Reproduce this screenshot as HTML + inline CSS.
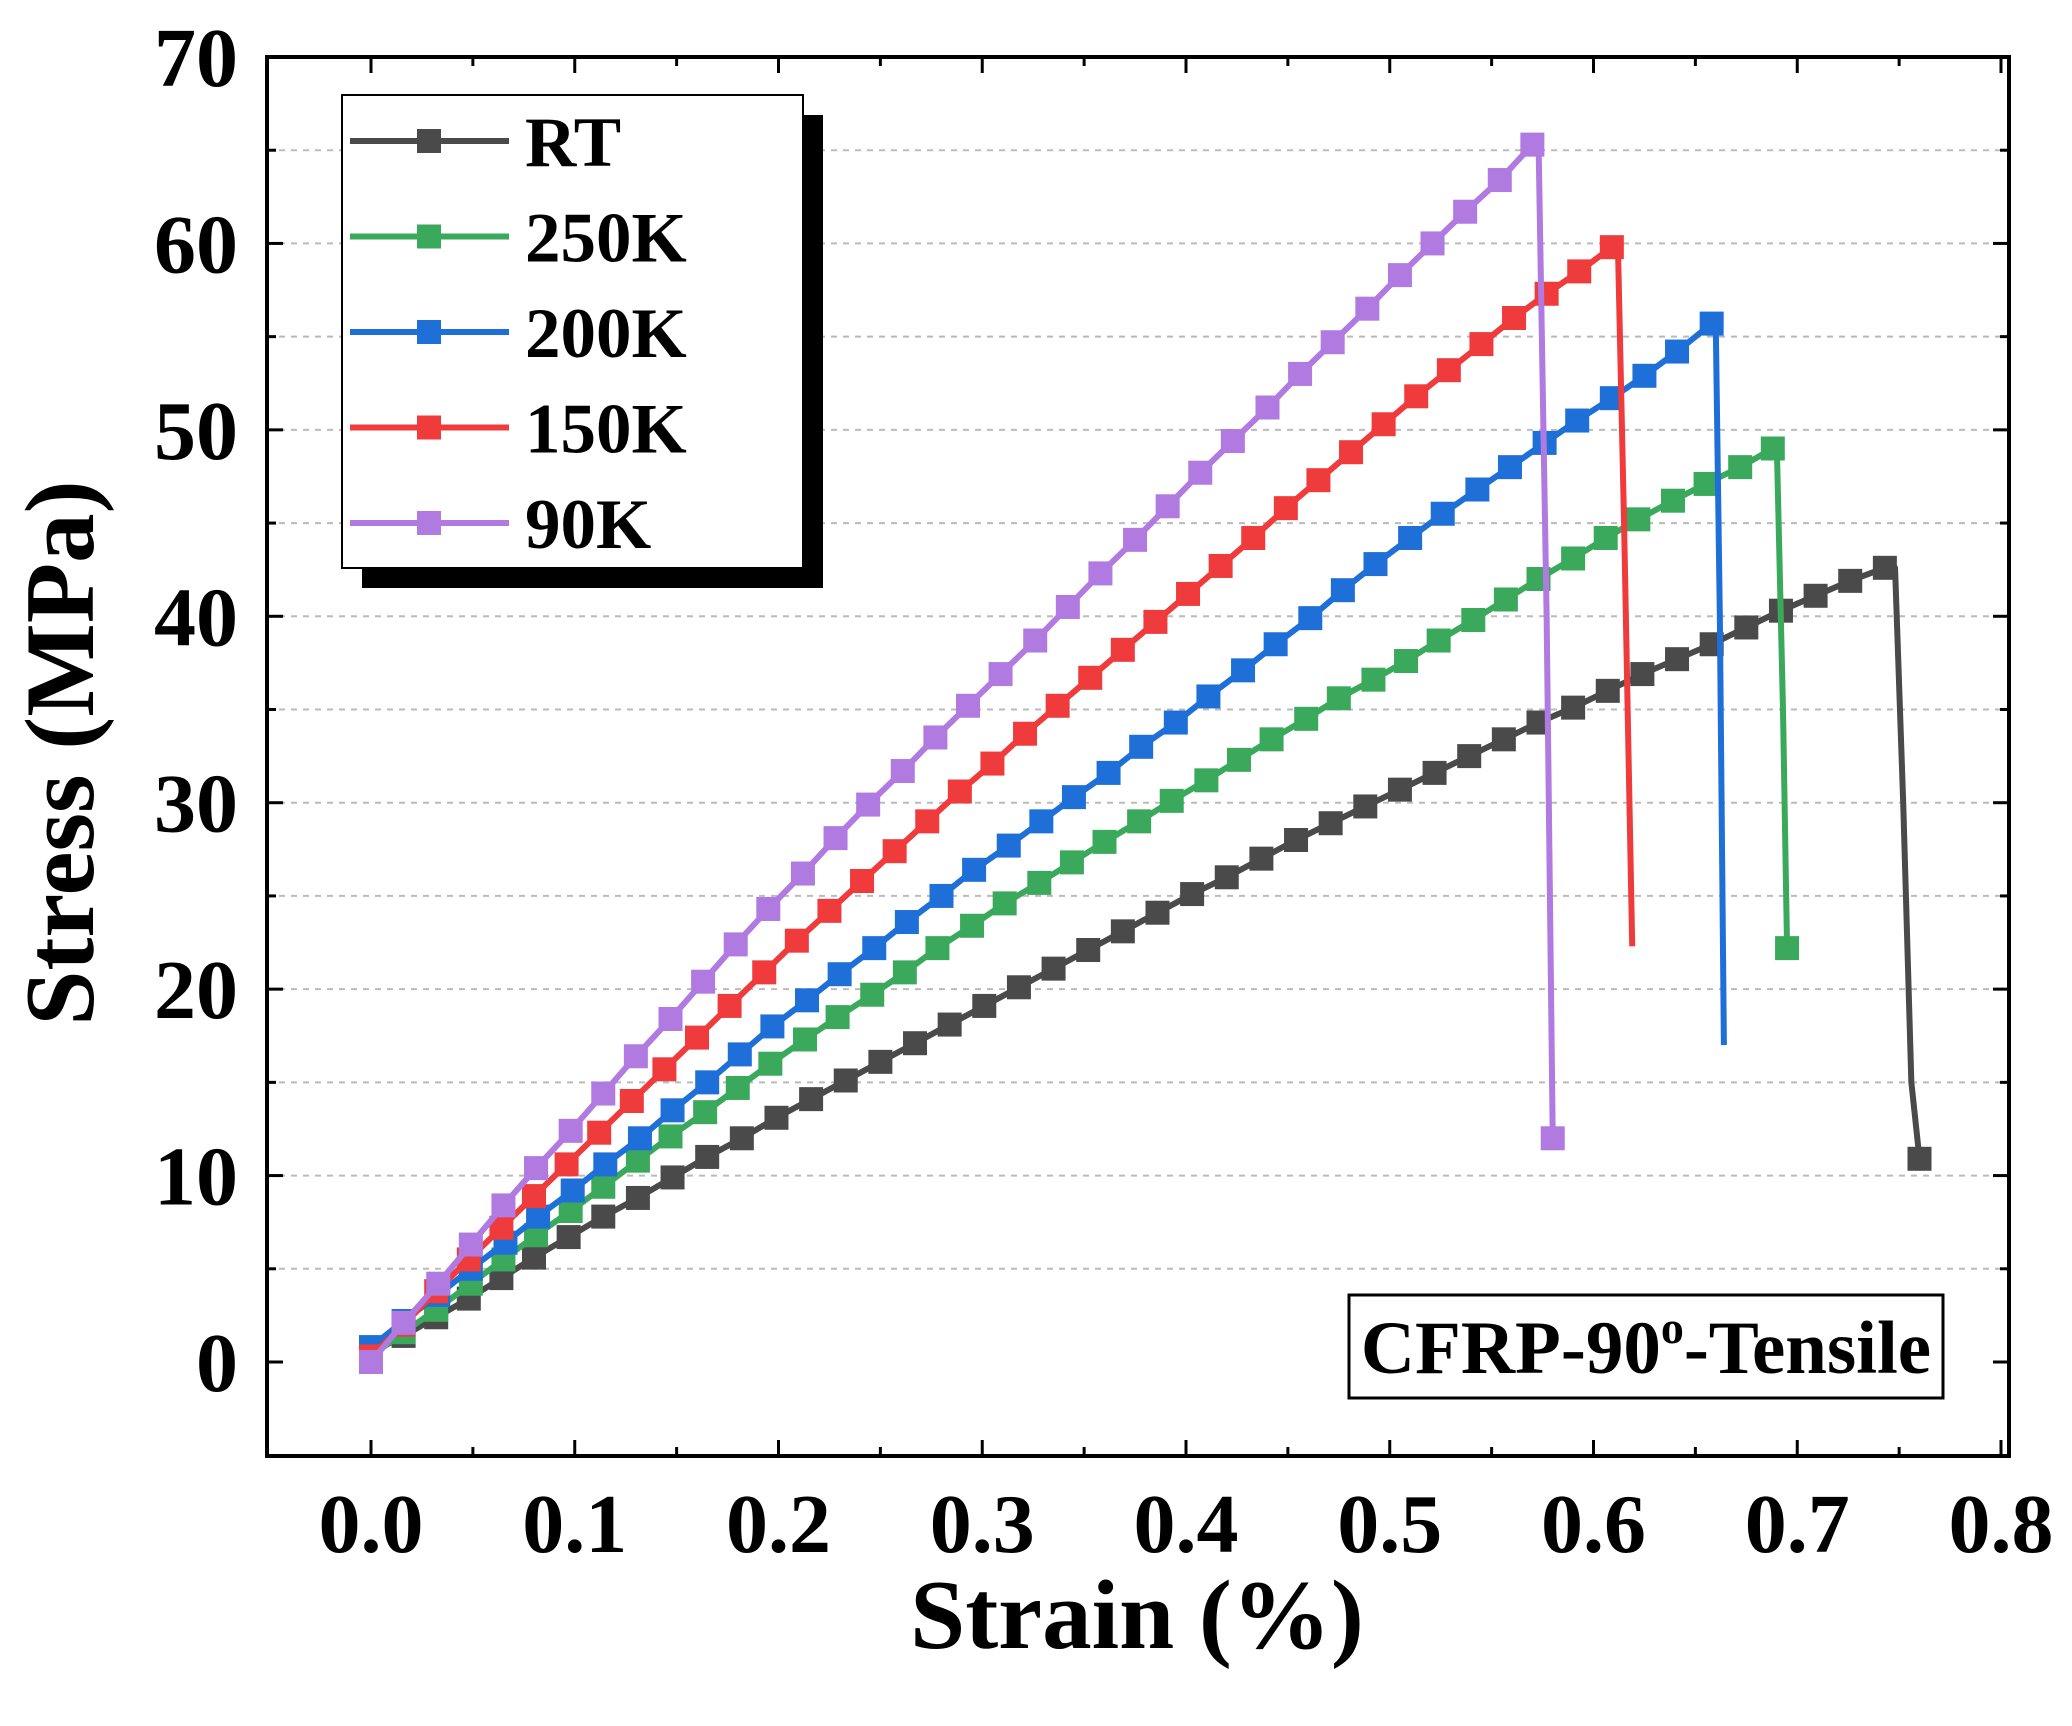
<!DOCTYPE html>
<html><head><meta charset="utf-8"><style>
html,body{margin:0;padding:0;background:#fff;}
svg{display:block;font-family:"Liberation Serif",serif;font-weight:bold;}
</style></head><body>
<svg id="chart" width="2072" height="1726" viewBox="0 0 2072 1726">
<g id="grid"></g>
<g id="series"></g>
<g id="axes"></g>
<g id="legend"></g>
<g>
<rect x="1349" y="1295" width="594" height="103" fill="#fff" stroke="#000" stroke-width="3"/>
<text x="1646" y="1373" font-size="75" text-anchor="middle">CFRP-90<tspan font-size="46" dy="-30">o</tspan><tspan dy="30">-Tensile</tspan></text>
</g>
<text x="1137" y="1648" font-size="99" text-anchor="middle">Strain (%)</text>
<text transform="translate(93,753) rotate(-90)" font-size="99" text-anchor="middle">Stress (MPa)</text>
</svg>
<script>
const seriesNames = ["RT","250K","200K","150K","90K"];
const seriesColors = ["#4a4a4a","#3aa95c","#1f6fd8","#ef3b3b","#b07ae0"];
const xTicks = [0,0.1,0.2,0.3,0.4,0.5,0.6,0.7,0.8];
const xTickLabels = ["0.0","0.1","0.2","0.3","0.4","0.5","0.6","0.7","0.8"];
const yTicks = [0,10,20,30,40,50,60,70];
const yTickLabels = ["0","10","20","30","40","50","60","70"];

const rtStrain = [0,0.016,0.032,0.048,0.064,0.080,0.097,0.114,0.131,0.148,0.165,0.182,0.199,0.216,0.233,0.250,0.267,0.284,0.301,0.318,0.335,0.352,0.369,0.386,0.403,0.420,0.437,0.454,0.471,0.488,0.505,0.522,0.539,0.556,0.573,0.590,0.607,0.624,0.641,0.658,0.675,0.692,0.709,0.726,0.743];
const rtStress = [0.5,1.4,2.4,3.4,4.5,5.6,6.7,7.8,8.8,9.9,11.0,12.0,13.1,14.1,15.1,16.1,17.1,18.1,19.1,20.1,21.1,22.1,23.1,24.1,25.1,26.0,27.0,28.0,28.9,29.8,30.7,31.6,32.5,33.4,34.3,35.1,36.0,36.9,37.7,38.5,39.4,40.3,41.1,41.9,42.6];
const rtDropStrain = [0.748,0.752,0.756,0.760];
const rtDropStress = [42.6,30,15,10.9];

const k250Strain = [0,.016,.032,.049,.065,.081,.098,.114,.131,.147,.164,.180,.196,.213,.229,.246,.262,.278,.295,.311,.328,.344,.360,.377,.393,.410,.426,.442,.459,.475,.492,.508,.524,.541,.557,.573,.590,.606,.622,.639,.655,.672,.688];
const k250Stress = [0.3,1.6,2.8,4.2,5.5,6.8,8.1,9.4,10.8,12.1,13.4,14.7,16.0,17.3,18.5,19.7,20.9,22.2,23.4,24.6,25.7,26.8,27.9,29.0,30.1,31.2,32.3,33.4,34.5,35.6,36.6,37.6,38.7,39.8,40.9,42.0,43.1,44.2,45.2,46.2,47.1,48.0,49.0];
const k250DropStrain = [0.690,0.693,0.695];
const k250DropStress = [49,35,22.2];

const k200Strain = [0,.016,.033,.049,.066,.082,.099,.115,.132,.148,.165,.181,.197,.214,.230,.247,.263,.280,.296,.313,.329,.345,.362,.378,.395,.411,.428,.444,.461,.477,.493,.510,.526,.543,.559,.576,.592,.609,.625,.641,.658];
const k200Stress = [0.8,2.2,3.6,5.0,6.4,7.8,9.2,10.6,12.0,13.5,15.0,16.5,18.0,19.4,20.8,22.2,23.6,25.0,26.4,27.7,29.0,30.3,31.6,33.0,34.3,35.7,37.1,38.5,39.9,41.4,42.8,44.2,45.5,46.8,48.0,49.3,50.5,51.7,52.9,54.2,55.7];
const k200DropStrain = [0.660,0.662,0.664];
const k200DropStress = [55.7,40,17];

const k150Strain = [0,.016,.032,.048,.064,.080,.096,.112,.128,.144,.160,.176,.193,.209,.225,.241,.257,.273,.289,.305,.321,.337,.353,.369,.385,.401,.417,.433,.449,.465,.481,.497,.513,.529,.545,.561,.577,.593,.609];
const k150Stress = [0.3,2.0,3.8,5.5,7.2,8.9,10.6,12.3,14.0,15.7,17.4,19.1,20.9,22.6,24.2,25.8,27.4,29.0,30.6,32.1,33.7,35.2,36.7,38.2,39.7,41.2,42.7,44.2,45.8,47.3,48.8,50.3,51.8,53.2,54.6,56.0,57.3,58.5,59.8];
const k150DropStrain = [0.612,0.615,0.619];
const k150DropStress = [59.8,45,22.3];

const k90Strain = [0,.016,.033,.049,.065,.081,.098,.114,.130,.147,.163,.179,.195,.212,.228,.244,.261,.277,.293,.309,.326,.342,.358,.375,.391,.407,.423,.440,.456,.472,.489,.505,.521,.537,.554,.570];
const k90Stress = [0,2.1,4.2,6.3,8.4,10.4,12.4,14.4,16.4,18.4,20.4,22.4,24.3,26.2,28.1,29.9,31.7,33.5,35.2,36.9,38.7,40.5,42.3,44.1,45.9,47.7,49.4,51.2,53.0,54.7,56.5,58.3,60.0,61.7,63.4,65.3];
const k90DropStrain = [0.573,0.577,0.580];
const k90DropStress = [65.6,40,12];

const allStrain = [rtStrain,k250Strain,k200Strain,k150Strain,k90Strain];
const allStress = [rtStress,k250Stress,k200Stress,k150Stress,k90Stress];
const allDropStrain = [rtDropStrain,k250DropStrain,k200DropStrain,k150DropStrain,k90DropStrain];
const allDropStress = [rtDropStress,k250DropStress,k200DropStress,k150DropStress,k90DropStress];
const endMarker = [true,true,false,false,true];

const NS="http://www.w3.org/2000/svg";
const L=267,R=2009,T=57,B=1456;
const X0=371,X1=2001,Y0=1362,Y1=57;
function sx(v){return X0+(X1-X0)*v/0.8;}
function sy(v){return Y0+(Y1-Y0)*v/70;}
function mk(tag,attrs,parent){const e=document.createElementNS(NS,tag);for(const k in attrs)e.setAttribute(k,attrs[k]);parent.appendChild(e);return e;}

const grid=document.getElementById('grid');
for(let v=5;v<70;v+=5){
  const g=mk('line',{x1:L,x2:R,y1:sy(v),y2:sy(v),stroke:'#bbb','stroke-width':2,'stroke-dasharray':'6,6'},grid);
  
  
}

const ser=document.getElementById('series');
for(let s=0;s<5;s++){
  const grp=mk('g',{},ser);
  
  
  const xs=allStrain[s], ys=allStress[s], dx=allDropStrain[s], dy=allDropStress[s];
  let pts=[];
  for(let i=0;i<xs.length;i++)pts.push(sx(xs[i])+','+sy(ys[i]));
  for(let i=0;i<dx.length;i++)pts.push(sx(dx[i])+','+sy(dy[i]));
  const pl=mk('polyline',{points:pts.join(' '),fill:'none',stroke:seriesColors[s],'stroke-width':6,'stroke-linejoin':'round'},grp);
  
  
  for(let i=0;i<xs.length;i++){
    const r=mk('rect',{x:sx(xs[i])-12,y:sy(ys[i])-12,width:24,height:24,fill:seriesColors[s]},grp);
    
    
  }
  if(endMarker[s]){
    const n=dx.length-1;
    const r=mk('rect',{x:sx(dx[n])-12,y:sy(dy[n])-12,width:24,height:24,fill:seriesColors[s]},grp);
    
    
  }
}

const ax=document.getElementById('axes');
mk('rect',{x:L,y:T,width:R-L,height:B-T,fill:'none',stroke:'#000','stroke-width':4},ax);
for(let i=0;i<xTicks.length;i++){
  const x=sx(xTicks[i]);
  mk('line',{x1:x,x2:x,y1:B,y2:B-16,stroke:'#000','stroke-width':3},ax);
  mk('line',{x1:x,x2:x,y1:T,y2:T+16,stroke:'#000','stroke-width':3},ax);
  if(i<xTicks.length-1){const xm=sx(xTicks[i]+0.05);
    mk('line',{x1:xm,x2:xm,y1:B,y2:B-9,stroke:'#000','stroke-width':3},ax);
    mk('line',{x1:xm,x2:xm,y1:T,y2:T+9,stroke:'#000','stroke-width':3},ax);}
  const t=mk('text',{x:x,y:1552,'font-size':84,'text-anchor':'middle'},ax);
  t.textContent=xTickLabels[i];
  
  
}
for(let i=0;i<yTicks.length;i++){
  const y=sy(yTicks[i]);
  mk('line',{x1:L,x2:L+16,y1:y,y2:y,stroke:'#000','stroke-width':3},ax);
  mk('line',{x1:R,x2:R-16,y1:y,y2:y,stroke:'#000','stroke-width':3},ax);
  if(i<yTicks.length-1){const ym=sy(yTicks[i]+5);
    mk('line',{x1:L,x2:L+9,y1:ym,y2:ym,stroke:'#000','stroke-width':3},ax);
    mk('line',{x1:R,x2:R-9,y1:ym,y2:ym,stroke:'#000','stroke-width':3},ax);}
  const t=mk('text',{x:238,y:y+29,'font-size':84,'text-anchor':'end'},ax);
  t.textContent=yTickLabels[i];
  
  
}

const lg=document.getElementById('legend');
mk('rect',{x:362,y:115,width:461,height:473,fill:'#000'},lg);
mk('rect',{x:342,y:95,width:461,height:473,fill:'#fff',stroke:'#000','stroke-width':2},lg);
for(let s=0;s<5;s++){
  const y=141+s*95.5;
  const e=mk('g',{},lg);
  
  
  mk('line',{x1:350,x2:509,y1:y,y2:y,stroke:seriesColors[s],'stroke-width':6},e);
  mk('rect',{x:417,y:y-12,width:24,height:24,fill:seriesColors[s]},e);
  const t=mk('text',{x:525,y:y+25,'font-size':71},e);
  t.textContent=seriesNames[s];
}
</script>
</body></html>
